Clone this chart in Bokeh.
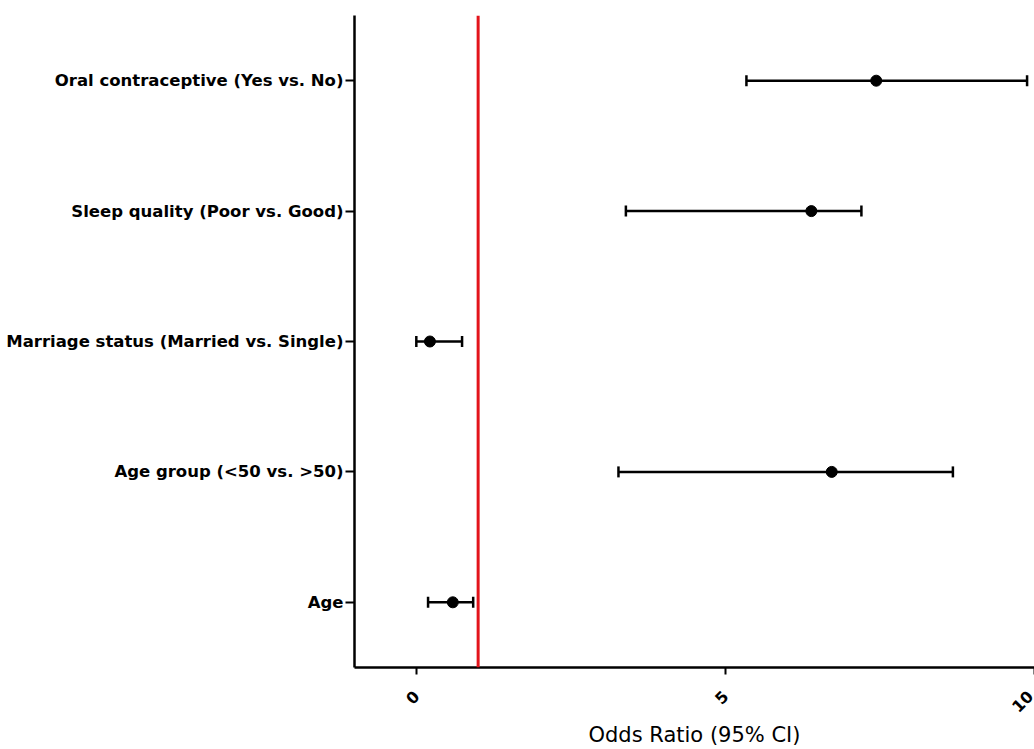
import math
from bokeh.plotting import figure
from bokeh.models import ColumnDataSource, FactorRange, Range1d, FixedTicker, Span, Whisker, TeeHead
from bokeh.embed import file_html
from bokeh.resources import INLINE

# Data (bottom to top)
categories = [
    "Age",
    "Age group (<50 vs. >50)",
    "Marriage status (Married vs. Single)",
    "Sleep quality (Poor vs. Good)",
    "Oral contraceptive (Yes vs. No)",
]
odds_ratio = [0.59, 6.72, 0.22, 6.39, 7.44]
ci_lower = [0.19, 3.27, 0.0, 3.39, 5.34]
ci_upper = [0.92, 8.68, 0.74, 7.20, 9.88]
x_ticks = [0, 5, 10]
reference_value = 1

source = ColumnDataSource(dict(cat=categories, orv=odds_ratio, lo=ci_lower, hi=ci_upper))

p = figure(
    width=1034, height=749,
    y_range=FactorRange(factors=categories),
    x_range=Range1d(-1, 10),
    output_backend="svg", toolbar_location=None,
    min_border_left=354, min_border_right=0,
    min_border_top=15, min_border_bottom=82,
)
p.outline_line_color = None
p.xgrid.visible = False
p.ygrid.visible = False
p.background_fill_color = "white"
p.border_fill_color = "white"

# reference line
p.add_layout(Span(location=reference_value, dimension="height",
                  line_color="#e3141b", line_width=3))

# CI whiskers
w = Whisker(source=source, base="cat", lower="lo", upper="hi", dimension="width",
            line_color="black", line_width=2.5,
            lower_head=TeeHead(size=11, line_color="black", line_width=2.5),
            upper_head=TeeHead(size=11, line_color="black", line_width=2.5))
p.add_layout(w)

p.scatter(x="orv", y="cat", source=source, size=11, color="black")

# x axis
xa = p.xaxis[0]
xa.ticker = FixedTicker(ticks=x_ticks, minor_ticks=[])
xa.axis_line_width = 2.5
xa.axis_line_color = "black"
xa.major_tick_line_width = 2
xa.major_tick_line_color = "black"
xa.major_tick_out = 7
xa.major_tick_in = 0
xa.minor_tick_line_color = None
xa.major_label_orientation = math.pi / 4
xa.major_label_text_font = "DejaVu Sans"
xa.major_label_text_font_style = "bold"
xa.major_label_text_font_size = "16px"
xa.major_label_text_color = "black"
xa.major_label_standoff = 19
xa.axis_label = "Odds Ratio (95% CI)"
xa.axis_label_text_font = "DejaVu Sans"
xa.axis_label_text_font_style = "normal"
xa.axis_label_text_font_size = "21px"
xa.axis_label_text_color = "black"
xa.axis_label_standoff = 2

# y axis
ya = p.yaxis[0]
ya.axis_line_width = 2.5
ya.axis_line_color = "black"
ya.major_tick_line_width = 2
ya.major_tick_line_color = "black"
ya.major_tick_out = 9
ya.major_tick_in = 0
ya.minor_tick_line_color = None
ya.major_label_standoff = 2
ya.major_label_text_font = "DejaVu Sans"
ya.major_label_text_font_style = "bold"
ya.major_label_text_font_size = "16.5px"
ya.major_label_text_color = "black"

open("out.html", "w").write(file_html(p, INLINE))
